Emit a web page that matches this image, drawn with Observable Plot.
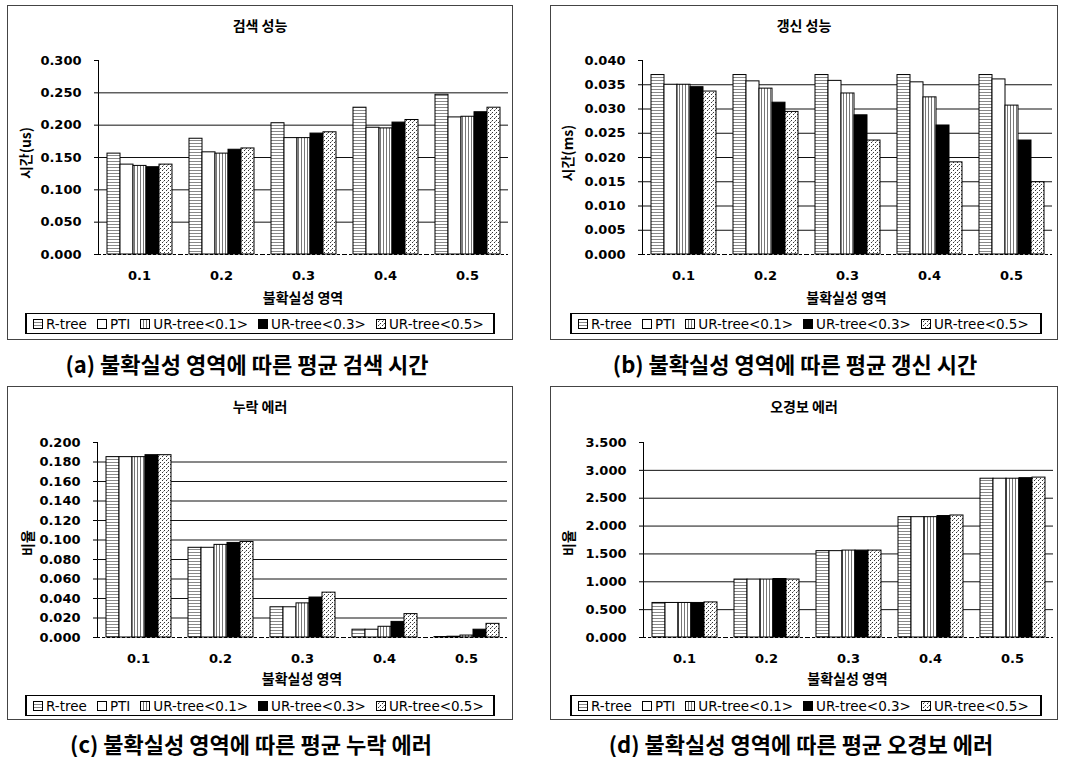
<!DOCTYPE html>
<html>
<head>
<meta charset="utf-8">
<script src="https://cdn.jsdelivr.net/npm/d3@7"></script>
<script src="https://cdn.jsdelivr.net/npm/@observablehq/plot@0.6"></script>
<style>
  html, body { margin: 0; padding: 0; background: #fff; }
  body { position: relative; width: 1076px; height: 757px; overflow: hidden; font-family: "DejaVu Sans", sans-serif; }
  .box { position: absolute; border: 1px solid #444; box-sizing: border-box; }
  .abs { position: absolute; white-space: nowrap; }
  .ctitle { font-family: "Noto Sans CJK KR", sans-serif; font-size: 14px; font-weight: 700; transform: translate(-50%, -50%); }
  .ytitle { font-family: "Noto Sans CJK KR", sans-serif; font-size: 14px; font-weight: 700; transform: translate(-50%, -50%) rotate(-90deg); }
  .caption { font-family: "Noto Sans CJK KR", sans-serif; font-size: 22px; font-weight: 700; transform: translate(-50%, -50%); }
  .legend { position: absolute; border: 1px solid #000; border-left-width: 2px; border-right-width: 2px; box-sizing: border-box;
            display: flex; flex-wrap: nowrap; align-items: center; padding-left: 6px; font-family: "DejaVu Sans", sans-serif; font-size: 13.5px; white-space: nowrap; overflow: hidden; }
  .item { display: flex; align-items: center; margin-right: 10px; flex-shrink: 0; white-space: nowrap; }
  .item svg { margin-right: 3px; flex-shrink: 0; }
  svg.plot { position: absolute; overflow: visible; }
</style>
</head>
<body>
<svg width="0" height="0" style="position:absolute">
  <defs>
    <pattern id="pR" width="4" height="3" patternUnits="userSpaceOnUse">
      <rect width="4" height="3" fill="#fff"/>
      <line x1="0" y1="0.5" x2="4" y2="0.5" stroke="#888" stroke-width="1"/>
    </pattern>
    <pattern id="pU1" width="3" height="4" patternUnits="userSpaceOnUse">
      <rect width="3" height="4" fill="#fff"/>
      <line x1="0.5" y1="0" x2="0.5" y2="4" stroke="#777" stroke-width="1"/>
    </pattern>
    <pattern id="pU5" width="4" height="4" patternUnits="userSpaceOnUse">
      <rect width="4" height="4" fill="#fff"/>
      <rect x="0" y="0" width="1" height="1" fill="#333"/>
      <rect x="2" y="2" width="1" height="1" fill="#333"/>
      <rect x="3" y="1" width="1" height="1" fill="#999"/>
    </pattern>
  </defs>
</svg>
<script>
// ---------- data ----------
const categories = ["0.1", "0.2", "0.3", "0.4", "0.5"];
const seriesNames = ["R-tree", "PTI", "UR-tree<0.1>", "UR-tree<0.3>", "UR-tree<0.5>"];

// one row per series, values per category (0.1 .. 0.5)
const searchTime = [
  [0.156, 0.179, 0.203, 0.227, 0.247],
  [0.139, 0.158, 0.180, 0.196, 0.212],
  [0.137, 0.156, 0.180, 0.195, 0.213],
  [0.135, 0.162, 0.187, 0.204, 0.220],
  [0.139, 0.164, 0.189, 0.208, 0.227]
];
const updateTime = [
  [0.0370, 0.0370, 0.0370, 0.0370, 0.0370],
  [0.0350, 0.0357, 0.0358, 0.0355, 0.0361],
  [0.0350, 0.0342, 0.0332, 0.0324, 0.0307],
  [0.0345, 0.0313, 0.0287, 0.0266, 0.0235],
  [0.0336, 0.0294, 0.0235, 0.0190, 0.0149]
];
const missError = [
  [0.185, 0.092, 0.031, 0.008, 0.0005],
  [0.185, 0.092, 0.031, 0.008, 0.0008],
  [0.185, 0.095, 0.035, 0.011, 0.002],
  [0.187, 0.097, 0.041, 0.016, 0.008],
  [0.187, 0.098, 0.046, 0.024, 0.014]
];
const falseAlarmError = [
  [0.62, 1.04, 1.55, 2.16, 2.85],
  [0.62, 1.04, 1.55, 2.16, 2.85],
  [0.62, 1.04, 1.56, 2.16, 2.85],
  [0.62, 1.05, 1.56, 2.18, 2.86],
  [0.63, 1.04, 1.56, 2.19, 2.87]
];

const ticksA = [0, 0.05, 0.1, 0.15, 0.2, 0.25, 0.3];
const ticksB = [0, 0.005, 0.01, 0.015, 0.02, 0.025, 0.03, 0.035, 0.04];
const ticksC = [0, 0.02, 0.04, 0.06, 0.08, 0.1, 0.12, 0.14, 0.16, 0.18, 0.2];
const ticksD = [0, 0.5, 1, 1.5, 2, 2.5, 3, 3.5];

const chartTitles = ["검색 성능", "갱신 성능", "누락 에러", "오경보 에러"];
const yTitles = ["시간(us)", "시간(ms)", "비율", "비율"];
const xTitle = "불확실성 영역";
const captions = [
  "(a) 불확실성 영역에 따른 평균 검색 시간",
  "(b) 불확실성 영역에 따른 평균 갱신 시간",
  "(c) 불확실성 영역에 따른 평균 누락 에러",
  "(d) 불확실성 영역에 따른 평균 오경보 에러"
];

// ---------- styles / layout ----------
const seriesFills = ["url(#pR)", "#ffffff", "url(#pU1)", "#000000", "url(#pU5)"];

const layout = [
  {data: searchTime, ticks: ticksA, box: [7, 5, 506, 335], plot: [98, 508, 60, 254], yt: [25, 153], cap: [247, 363], leg: [25, 313, 470, 21]},
  {data: updateTime, ticks: ticksB, box: [550, 5, 508, 335], plot: [640, 1053, 60, 254], yt: [567, 153], cap: [795, 363], leg: [570, 313, 472, 21]},
  {data: missError, ticks: ticksC, box: [7, 386, 506, 334], plot: [97, 507, 442, 637], yt: [27, 543], cap: [251, 743], leg: [25, 695, 470, 21]},
  {data: falseAlarmError, ticks: ticksD, box: [550, 386, 508, 334], plot: [642, 1053, 442, 637], yt: [568, 543], cap: [801, 743], leg: [570, 695, 472, 21]}
];

function el(tag, cls, css, text) {
  const e = document.createElement(tag);
  if (cls) e.className = cls;
  Object.assign(e.style, css || {});
  if (text != null) e.textContent = text;
  document.body.appendChild(e);
  return e;
}

layout.forEach((L, k) => {
  const [bx, by, bw, bh] = L.box;
  const [pl, pr, pt, pb] = L.plot;
  el("div", "box", {left: bx + "px", top: by + "px", width: bw + "px", height: bh + "px"});
  el("div", "abs ctitle", {left: (bx + bw / 2) + "px", top: (by + 20) + "px"}, chartTitles[k]);
  el("div", "abs ytitle", {left: L.yt[0] + "px", top: L.yt[1] + "px"}, yTitles[k]);
  el("div", "abs ctitle", {left: ((pl + pr) / 2) + "px", top: (by + 292) + "px"}, xTitle);
  el("div", "abs caption", {left: L.cap[0] + "px", top: L.cap[1] + "px"}, captions[k]);

  // legend
  const lg = el("div", "legend", {left: L.leg[0] + "px", top: L.leg[1] + "px", width: L.leg[2] + "px", height: L.leg[3] + "px"});
  seriesNames.forEach((s, j) => {
    const it = document.createElement("div");
    it.className = "item";
    it.innerHTML = `<svg width="10" height="10"><rect x="0.5" y="0.5" width="9" height="9" fill="${seriesFills[j]}" stroke="#000"/></svg><span>${s.replace(/</g, "&lt;").replace(/>/g, "&gt;")}</span>`;
    lg.appendChild(it);
  });

  // rows
  const rows = [];
  categories.forEach((c, i) => seriesNames.forEach((s, j) => rows.push({cat: c, series: s, value: L.data[j][i]})));

  const svgLeft = bx + 1, svgWidth = bw - 2;
  const mTop = 16, mBottom = 36;
  const svgTop = pt - mTop;
  const height = pb - pt + mTop + mBottom;
  const ymax = L.ticks[L.ticks.length - 1];

  const chart = Plot.plot({
    width: svgWidth,
    height,
    marginLeft: pl - svgLeft,
    marginRight: svgLeft + svgWidth - pr,
    marginTop: mTop,
    marginBottom: mBottom,
    style: {fontFamily: "DejaVu Sans", fontSize: "13px", fontWeight: "bold", color: "#000", background: "transparent", overflow: "visible"},
    facet: {data: rows, x: "cat"},
    fx: {domain: categories, padding: 0, label: null, tickSize: 0, tickPadding: 16},
    x: {domain: seriesNames, axis: null, paddingInner: 0, paddingOuter: 0.625},
    y: {domain: [0, ymax], ticks: L.ticks, tickFormat: ".3f", label: null, tickSize: 4, tickPadding: 13, line: true},
    color: {domain: seriesNames, range: seriesFills},
    marks: [
      Plot.ruleY(L.ticks.slice(1, -1), {stroke: "#111", strokeWidth: 1}),
      Plot.barY(rows, {x: "series", y: "value", fill: "series", stroke: "#000", strokeWidth: 1}),
      Plot.ruleY([0], {stroke: "#000", strokeWidth: 1, strokeDasharray: "3,2"})
    ]
  });
  chart.classList.add("plot");
  chart.style.left = svgLeft + "px";
  chart.style.top = svgTop + "px";
  document.body.appendChild(chart);
});
</script>
</body>
</html>
